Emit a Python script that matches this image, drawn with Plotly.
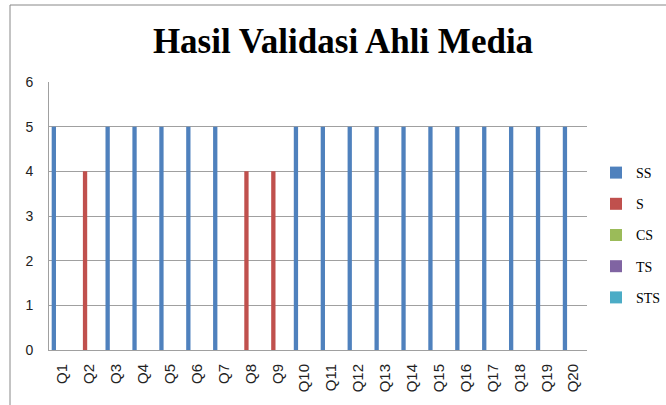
import plotly.graph_objects as go

categories = [f"Q{i}" for i in range(1, 21)]
ss = [5, 0, 5, 5, 5, 5, 5, 0, 0, 5, 5, 5, 5, 5, 5, 5, 5, 5, 5, 5]
s = [0, 4, 0, 0, 0, 0, 0, 4, 4, 0, 0, 0, 0, 0, 0, 0, 0, 0, 0, 0]
cs = [0] * 20
ts = [0] * 20
sts = [0] * 20

series = [("SS", ss, "#4F81BD"), ("S", s, "#C0504D"), ("CS", cs, "#9BBB59"),
          ("TS", ts, "#8064A2"), ("STS", sts, "#4BACC6")]

fig = go.Figure()
for name, vals, color in series:
    fig.add_trace(go.Bar(x=categories, y=vals, name=name, marker_color=color,
                         marker_line_width=0, legendgroup=name))

W, H = 666, 405
ml, mr, mt, mb = 49, 79, 82, 55
pw, ph = W - ml - mr, H - mt - mb

fig.update_layout(
    width=W, height=H,
    margin=dict(l=ml, r=mr, t=mt, b=mb, autoexpand=False),
    paper_bgcolor="white", plot_bgcolor="white",
    barmode="group", bargap=0.2, bargroupgap=0,
    title=dict(text="<b>Hasil Validasi Ahli Media</b>", x=(343 - ml) / pw, xref="paper",
               xanchor="center", y=1 - 41 / H, yanchor="middle",
               font=dict(family="Liberation Serif", size=35, color="black")),
    xaxis=dict(type="category", tickangle=-90, showgrid=False, showline=True,
               linecolor="#A0A0A0", linewidth=1, ticks="", automargin=False,
               ticklabelstandoff=7,
               tickfont=dict(family="Liberation Sans", size=15, color="#222")),
    yaxis=dict(range=[0, 6], dtick=1, showgrid=True, gridcolor="#A0A0A0", gridwidth=1,
               showline=True, linecolor="#A0A0A0", linewidth=1, ticks="", zeroline=False,
               ticklabelstandoff=12, automargin=False,
               tickfont=dict(family="Liberation Sans", size=14, color="#222")),
    legend=dict(x=(596 - ml) / pw, xanchor="left", y=(350 - 235) / ph, yanchor="middle",
                font=dict(family="Liberation Serif", size=14, color="black"),
                tracegroupgap=10, itemwidth=30, bgcolor="rgba(0,0,0,0)"),
    shapes=[dict(type="rect", xref="paper", yref="paper",
                 x0=(10 - ml) / pw, x1=(W + 20 - ml) / pw,
                 y0=(350 - H - 20) / ph, y1=(350 - 5) / ph,
                 line=dict(color="#888888", width=1), fillcolor="rgba(0,0,0,0)", layer="below")],
)

fig.write_html("out.html", config={"displayModeBar": False},
               post_script="document.body.style.margin='0px';")
